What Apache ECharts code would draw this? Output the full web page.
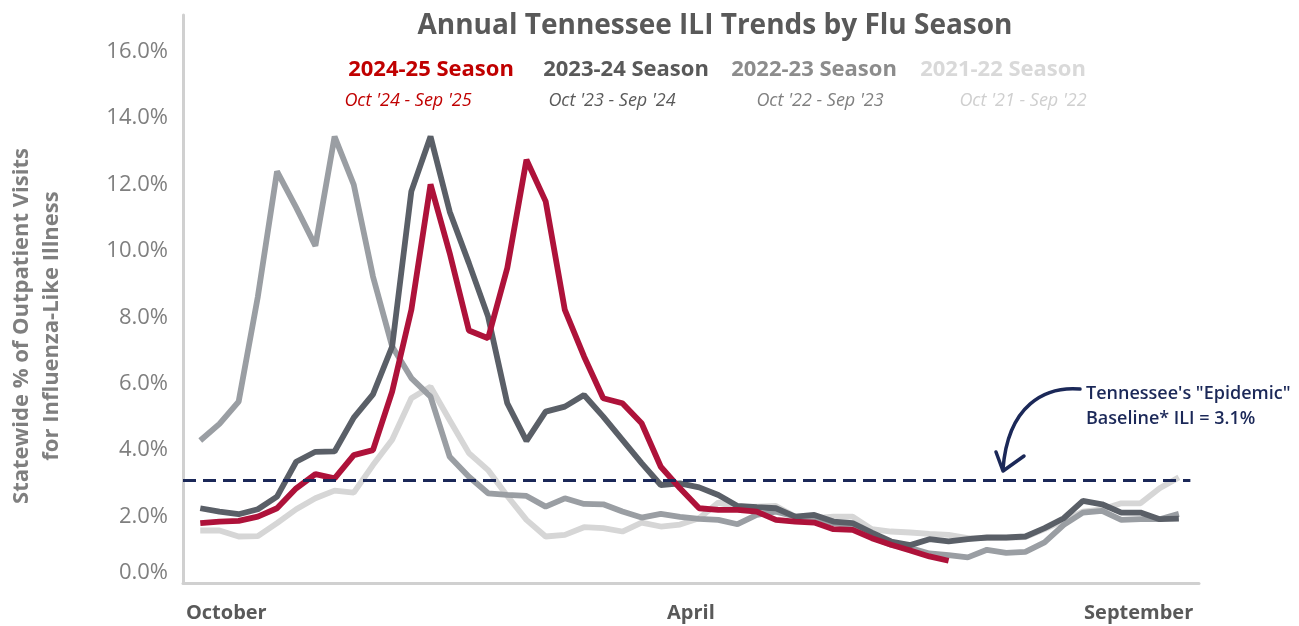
<!DOCTYPE html>
<html><head><meta charset="utf-8">
<script src="https://cdn.jsdelivr.net/npm/echarts@6/dist/echarts.min.js"></script>
<style>html,body{margin:0;padding:0;background:#fff}#c{width:1299px;height:626px}</style>
</head><body><div id="c"></div>
<script>
// MMWR weeks of a flu season (Oct -> Sep)
const weeks = [40,41,42,43,44,45,46,47,48,49,50,51,52,1,2,3,4,5,6,7,8,9,10,11,12,13,14,15,16,17,18,19,20,21,22,23,24,25,26,27,28,29,30,31,32,33,34,35,36,37,38,39];

const season2425 = [1.80,1.85,1.87,2.00,2.25,2.85,3.28,3.15,3.85,4.00,5.76,8.22,12.00,9.93,7.60,7.37,9.48,12.74,11.49,8.22,6.82,5.56,5.41,4.81,3.50,2.85,2.25,2.20,2.20,2.15,1.90,1.85,1.82,1.62,1.60,1.35,1.15,0.98,0.80,0.67];
const season2324 = [2.25,2.15,2.07,2.22,2.60,3.65,3.95,3.96,4.98,5.68,7.12,11.79,13.44,11.18,9.63,8.02,5.41,4.28,5.16,5.31,5.66,5.01,4.31,3.61,2.95,3.00,2.88,2.65,2.32,2.28,2.25,2.00,2.05,1.85,1.80,1.52,1.25,1.14,1.32,1.25,1.32,1.37,1.37,1.40,1.65,1.95,2.47,2.37,2.12,2.12,1.92,1.94];
const season2223 = [4.29,4.79,5.46,8.62,12.39,11.30,10.15,13.44,11.99,9.23,7.12,6.17,5.61,3.80,3.20,2.70,2.65,2.62,2.30,2.55,2.38,2.37,2.15,1.97,2.08,1.99,1.93,1.90,1.77,2.05,2.15,2.00,1.95,1.80,1.72,1.38,1.15,1.05,0.89,0.84,0.77,1.00,0.91,0.94,1.22,1.75,2.12,2.17,1.90,1.92,1.92,2.08];
const season2122 = [1.58,1.58,1.40,1.41,1.80,2.22,2.55,2.78,2.72,3.55,4.31,5.56,5.91,4.90,3.91,3.40,2.62,1.90,1.40,1.45,1.68,1.65,1.55,1.82,1.70,1.76,1.95,2.42,2.28,2.30,2.32,2.00,1.95,2.00,2.00,1.62,1.55,1.52,1.48,1.45,1.35,1.35,1.36,1.38,1.62,1.88,2.15,2.22,2.40,2.40,2.85,3.18];

const seasonNames = ['2024-25 Season','2023-24 Season','2022-23 Season','2021-22 Season'];
const seasonRanges = ["Oct '24 - Sep '25","Oct '23 - Sep '24","Oct '22 - Sep '23","Oct '21 - Sep '22"];

const baselineILI = 3.1;
const xTickLabels = ['October','April','September'];
const xTickWeekIndex = [-0.75, 25.57, 51.75];
const yTicks = [0,2,4,6,8,10,12,14,16];

const toPairs = arr => arr.map((v,i)=>[i,v]);

const chart = echarts.init(document.getElementById('c'), null, {renderer:'canvas'});
const F = 'Open Sans';
const lineW = 5.8;

const option = {
  animation:false,
  backgroundColor:'#fff',
  title:{
    text:'Annual Tennessee ILI Trends by Flu Season',
    left:715, top:12, textAlign:'center', padding:0,
    textStyle:{fontFamily:F, fontSize:28, fontWeight:'bold', color:'#595959'}
  },
  grid:{left:183, right:100, top:15, bottom:43, containLabel:false, outerBoundsMode:'none'},
  xAxis:{
    type:'value', min:-0.9, max:52.05,
    splitLine:{show:false},
    axisTick:{show:false},
    axisLine:{show:true, onZero:false, lineStyle:{color:'#D0D0D0', width:3}},
    axisLabel:{
      customValues:xTickWeekIndex,
      formatter:(v)=>{ const k = xTickWeekIndex.findIndex(t=>Math.abs(t-v)<1e-6); return k>=0?xTickLabels[k]:''; },
      alignMinLabel:'left', alignMaxLabel:'right',
      margin:20, fontFamily:F, fontSize:20, fontWeight:'bold', color:'#595959'
    }
  },
  yAxis:{
    type:'value', min:0, max:17.1, interval:2,
    splitLine:{show:false},
    axisTick:{show:false},
    axisLine:{show:true, onZero:false, lineStyle:{color:'#D0D0D0', width:3}},
    axisLabel:{
      showMaxLabel:false,
      margin:15, fontFamily:F, fontSize:22, color:'#7F7F7F',
      formatter:(v)=>{ if(!yTicks.includes(v)) return ''; return v===0?'{z|0.0%}':v.toFixed(1)+'%'; },
      rich:{z:{fontFamily:F, fontSize:22, color:'#7F7F7F', padding:[0,0,20,0]}}
    },
    name:'Statewide % of Outpatient Visits\nfor Influenza-Like Illness',
    nameLocation:'middle', nameRotate:90, nameGap:116,
    nameTextStyle:{fontFamily:F, fontSize:22, fontWeight:'bold', color:'#7F7F7F', lineHeight:30, align:'center', padding:[0,54,0,0]}
  },
  series:[
    {name:seasonNames[3], type:'line', data:toPairs(season2122), symbol:'none', z:2,
      lineStyle:{color:'#D6D6D6', width:lineW}},
    {name:seasonNames[2], type:'line', data:toPairs(season2223), symbol:'none', z:3,
      lineStyle:{color:'#9A9EA3', width:lineW}},
    {name:seasonNames[1], type:'line', data:toPairs(season2324), symbol:'none', z:4,
      lineStyle:{color:'#5A5F67', width:lineW}},
    {name:seasonNames[0], type:'line', data:toPairs(season2425), symbol:'none', z:5,
      lineStyle:{color:'#AE123A', width:lineW},
      markLine:{silent:true, symbol:'none', label:{show:false}, z:10,
        lineStyle:{color:'#1B2858', width:3, type:[13,7]},
        data:[[{coord:[-0.9,baselineILI]},{coord:[51.6,baselineILI]}]]}}
  ],
  graphic:[]
};

const legendTitleX = [431,626,814,1003];
const legendSubX = [408,612,820,1023];
const legendTitleColor = ['#C00000','#595959','#8C8C8C','#D9D9D9'];
const legendSubColor = ['#C00000','#595959','#7F7F7F','#CFCFCF'];
for(let k=0;k<4;k++){
  option.graphic.push({type:'text', x:legendTitleX[k], y:70, style:{text:seasonNames[k], fill:legendTitleColor[k], font:'bold 22px "Open Sans"', textAlign:'center', textVerticalAlign:'middle'}});
  option.graphic.push({type:'text', x:legendSubX[k], y:101, style:{text:seasonRanges[k], fill:legendSubColor[k], font:'italic 18px "Open Sans"', textAlign:'center', textVerticalAlign:'middle'}});
}
option.graphic.push({type:'text', x:1086, y:406, style:{text:'Tennessee\'s "Epidemic"\nBaseline* ILI = ' + baselineILI.toFixed(1) + '%', fill:'#1B2858', font:'600 18px "Open Sans"', lineHeight:25, textAlign:'left', textVerticalAlign:'middle'}});
option.graphic.push({type:'bezierCurve', shape:{x1:1080,y1:389,cpx1:1045,cpy1:386,cpx2:1008,cpy2:405,x2:1003,y2:469}, style:{fill:null, stroke:'#1B2858', lineWidth:3.5, lineCap:'round'}});
option.graphic.push({type:'polyline', shape:{points:[[996,452],[1003,471],[1024,456]]}, style:{fill:null, stroke:'#1B2858', lineWidth:3.5, lineCap:'round', lineJoin:'round'}});

chart.setOption(option);
</script>
</body></html>
